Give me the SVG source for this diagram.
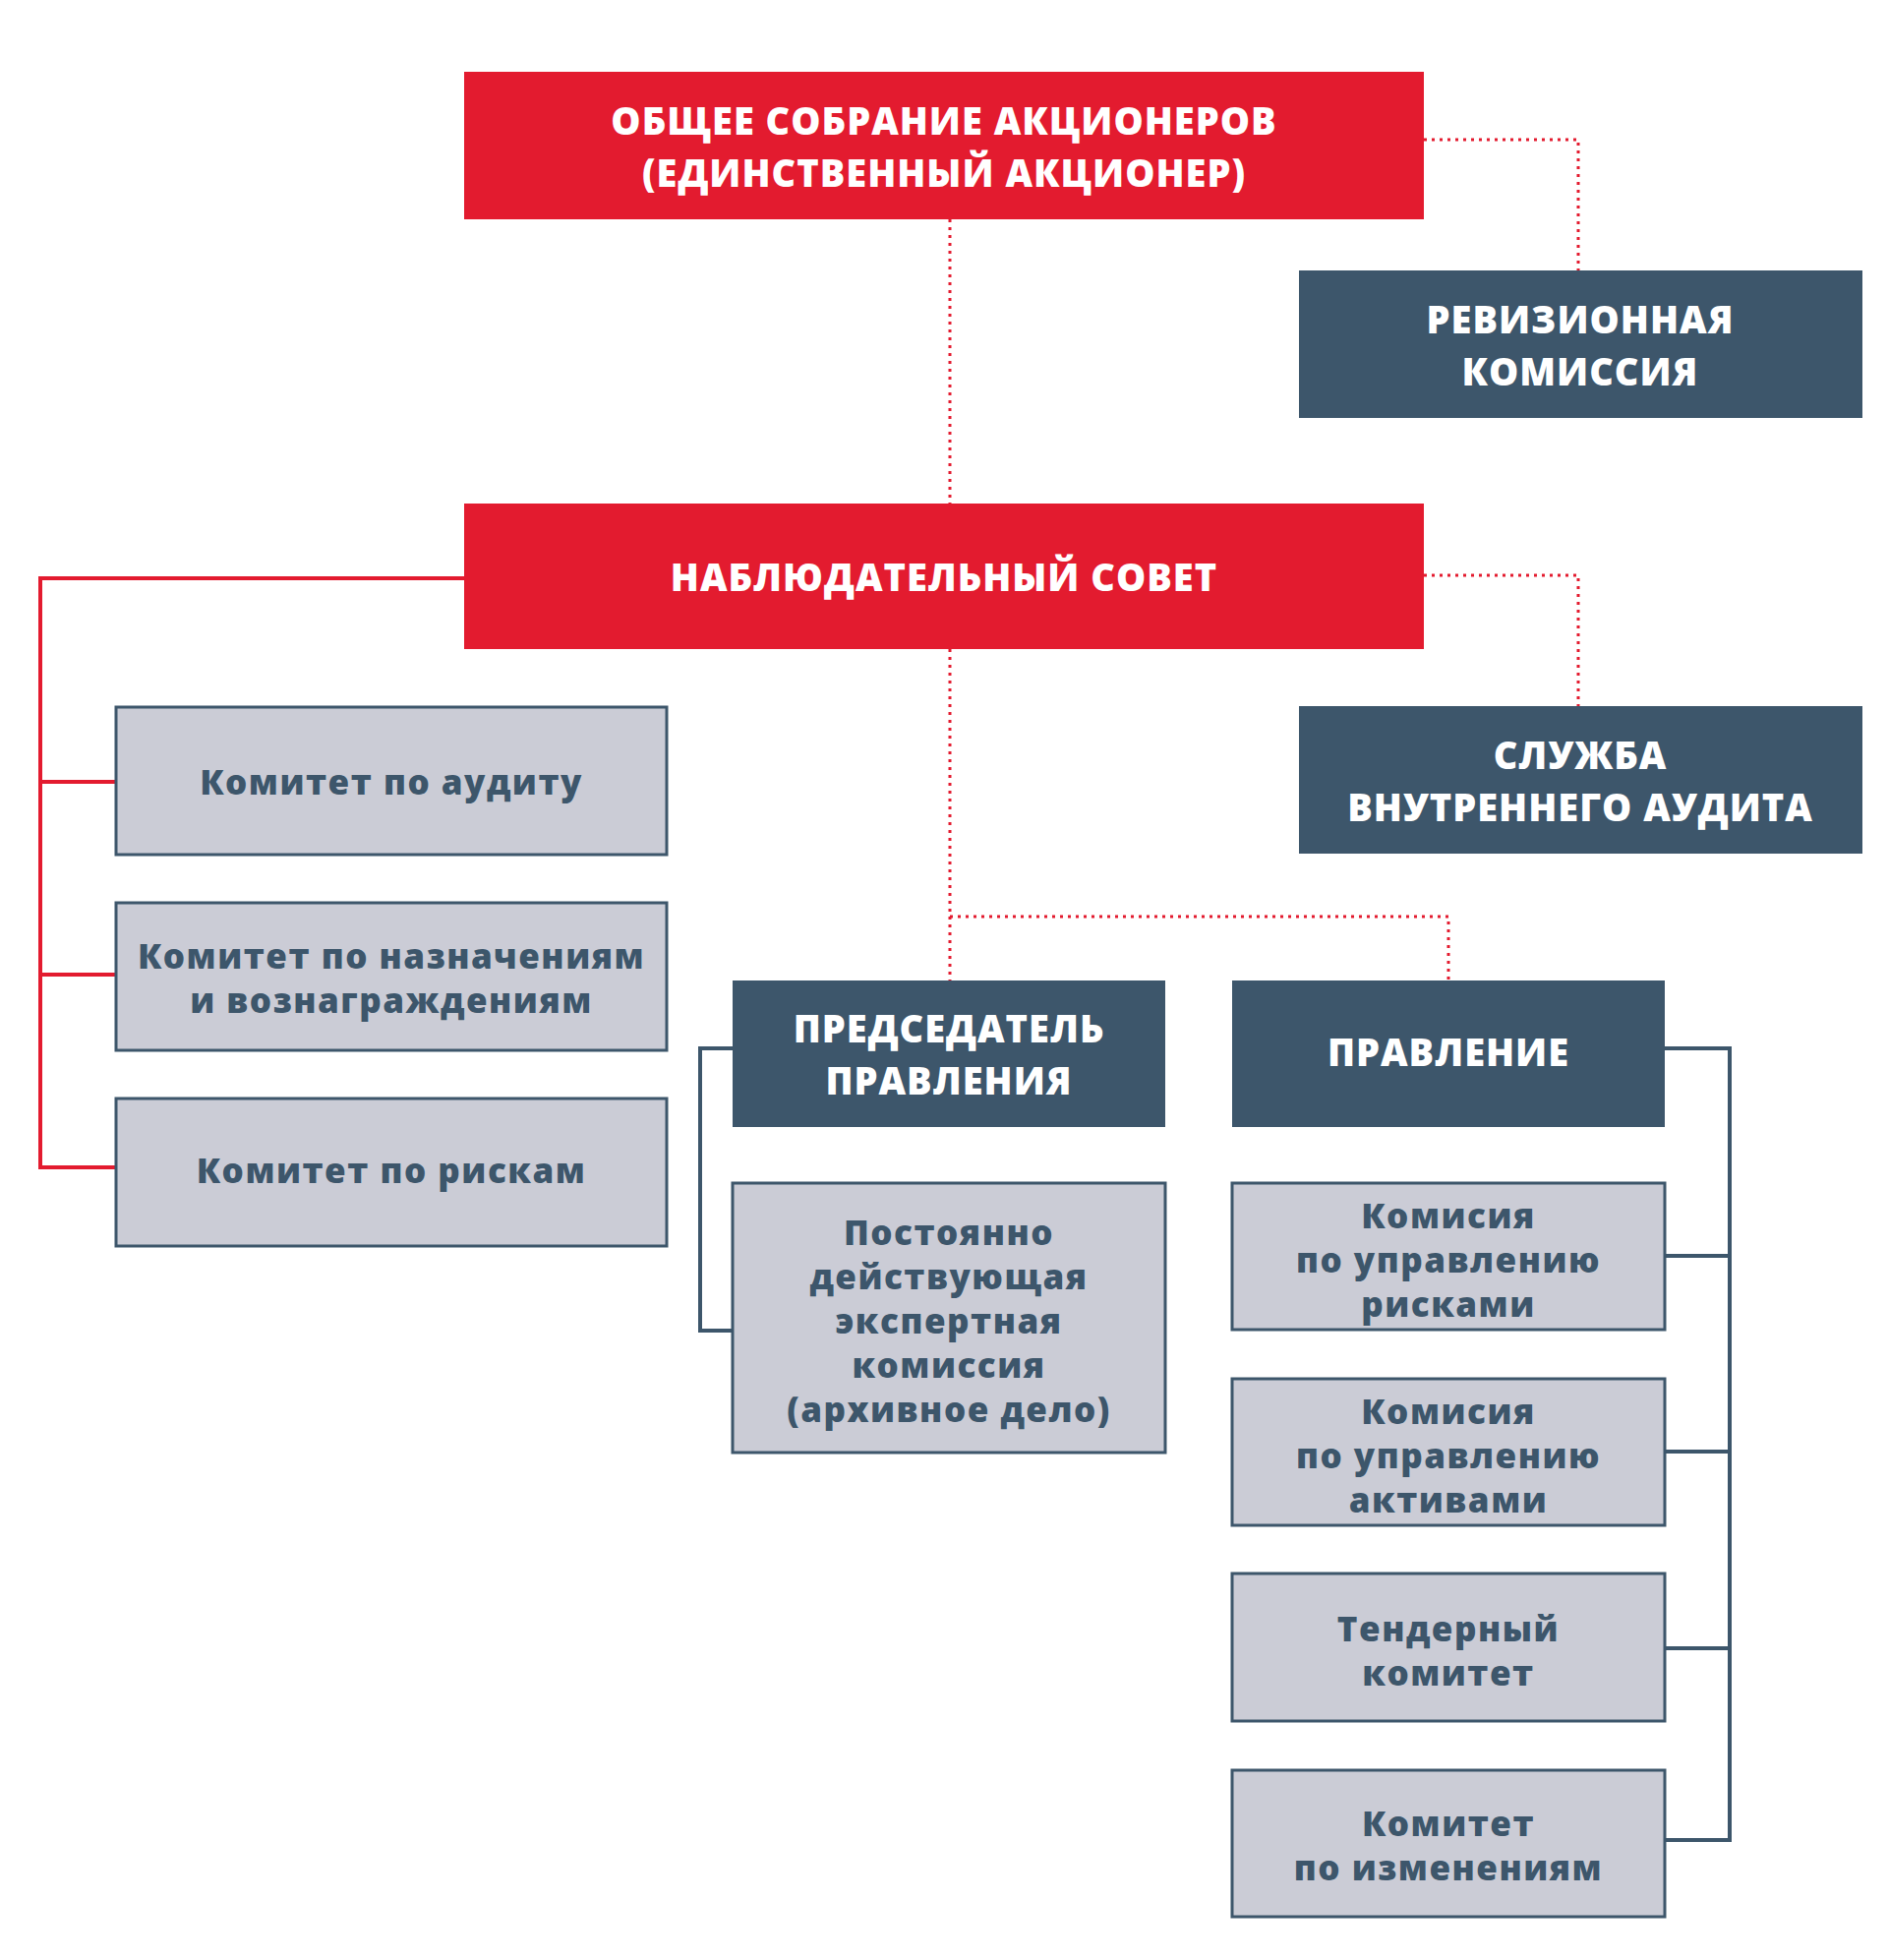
<svg xmlns="http://www.w3.org/2000/svg" width="1920" height="1993" viewBox="0 0 1920 1993">
<style>
.red{fill:#E31B2F}.dark{fill:#3D566B}.gray{fill:#CBCCD6;stroke:#3D566B;stroke-width:3}
text{font-family:"Open Sans",Inter,"Liberation Sans",sans-serif;font-weight:800;text-anchor:middle;dominant-baseline:central;letter-spacing:1px}
.w{fill:#fff;font-size:38px}.g{fill:#3D566B;font-size:35px;letter-spacing:1.5px}
.dot{fill:none;stroke:#E31B2F;stroke-width:3;stroke-dasharray:3 5}
.rl{fill:none;stroke:#E31B2F;stroke-width:4}.dl{fill:none;stroke:#3D566B;stroke-width:4}
</style>
<rect width="1920" height="1993" fill="#fff"/>
<g id="connectors">
<path class="dot" d="M966 223V512M1448 142H1605V275M1448 585H1605V718M966 660V997M966 932H1473V997"/>
<path class="rl" d="M472 588H41V1187H118M41 795H118M41 991H118"/>
<path class="dl" d="M745 1066H712V1353H745M1693 1066H1759V1871H1693M1693 1277H1759M1693 1476H1759M1693 1676H1759"/>
</g>
<g id="n1"><rect class="red" x="472" y="73" width="976" height="150"/><text class="w" x="960" y="122">ОБЩЕЕ СОБРАНИЕ АКЦИОНЕРОВ</text><text class="w" x="960" y="175">(ЕДИНСТВЕННЫЙ АКЦИОНЕР)</text></g>
<g id="n2"><rect class="dark" x="1321" y="275" width="573" height="150"/><text class="w" x="1607" y="324">РЕВИЗИОННАЯ</text><text class="w" x="1607" y="377">КОМИССИЯ</text></g>
<g id="n3"><rect class="red" x="472" y="512" width="976" height="148"/><text class="w" x="960" y="586">НАБЛЮДАТЕЛЬНЫЙ СОВЕТ</text></g>
<g id="n4"><rect class="dark" x="1321" y="718" width="573" height="150"/><text class="w" x="1607" y="767">СЛУЖБА</text><text class="w" x="1607" y="820">ВНУТРЕННЕГО АУДИТА</text></g>
<g id="n5"><rect class="gray" x="118" y="719" width="560" height="150"/><text class="g" x="398" y="794">Комитет по аудиту</text></g>
<g id="n6"><rect class="gray" x="118" y="918" width="560" height="150"/><text class="g" x="398" y="971">Комитет по назначениям</text><text class="g" x="398" y="1016">и вознаграждениям</text></g>
<g id="n7"><rect class="gray" x="118" y="1117" width="560" height="150"/><text class="g" x="398" y="1189">Комитет по рискам</text></g>
<g id="n8"><rect class="dark" x="745" y="997" width="440" height="149"/><text class="w" x="965" y="1045">ПРЕДСЕДАТЕЛЬ</text><text class="w" x="965" y="1098">ПРАВЛЕНИЯ</text></g>
<g id="n9"><rect class="gray" x="745" y="1203" width="440" height="274"/><text class="g" x="965" y="1252">Постоянно</text><text class="g" x="965" y="1297">действующая</text><text class="g" x="965" y="1342">экспертная</text><text class="g" x="965" y="1387">комиссия</text><text class="g" x="965" y="1432">(архивное дело)</text></g>
<g id="n10"><rect class="dark" x="1253" y="997" width="440" height="149"/><text class="w" x="1473" y="1069">ПРАВЛЕНИЕ</text></g>
<g id="n11"><rect class="gray" x="1253" y="1203" width="440" height="149"/><text class="g" x="1473" y="1235">Комисия</text><text class="g" x="1473" y="1280">по управлению</text><text class="g" x="1473" y="1325">рисками</text></g>
<g id="n12"><rect class="gray" x="1253" y="1402" width="440" height="149"/><text class="g" x="1473" y="1434">Комисия</text><text class="g" x="1473" y="1479">по управлению</text><text class="g" x="1473" y="1524">активами</text></g>
<g id="n13"><rect class="gray" x="1253" y="1600" width="440" height="150"/><text class="g" x="1473" y="1655">Тендерный</text><text class="g" x="1473" y="1700">комитет</text></g>
<g id="n14"><rect class="gray" x="1253" y="1800" width="440" height="149"/><text class="g" x="1473" y="1853">Комитет</text><text class="g" x="1473" y="1898">по изменениям</text></g>
</svg>
